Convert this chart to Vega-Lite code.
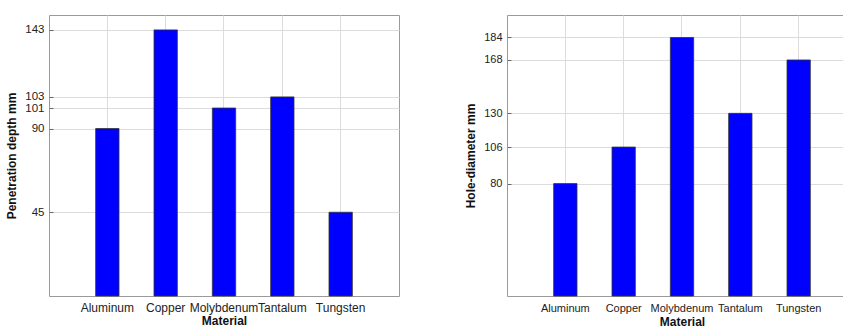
{
  "$schema": "https://vega.github.io/schema/vega-lite/v6.json",
  "autosize": {"type": "pad"},
  "padding": {"left": 5, "top": 14, "right": 0, "bottom": 0},
  "background": "white",
  "bounds": "flush",
  "spacing": 108,
  "data": {
    "values": [
      {"Material": "Aluminum", "Penetration": 90, "Hole": 80},
      {"Material": "Copper", "Penetration": 143, "Hole": 106},
      {"Material": "Molybdenum", "Penetration": 101, "Hole": 184},
      {"Material": "Tantalum", "Penetration": 107, "Hole": 130},
      {"Material": "Tungsten", "Penetration": 45, "Hole": 168}
    ]
  },
  "config": {
    "view": {"stroke": "#9a9a9a", "strokeWidth": 1},
    "axis": {
      "labelFont": "Liberation Sans",
      "labelFontSize": 11,
      "labelColor": "#222222",
      "titleFont": "Liberation Sans",
      "titleFontSize": 12,
      "titleFontWeight": "bold",
      "titleColor": "#111111",
      "gridColor": "#dcdcdc",
      "gridWidth": 1,
      "domain": false,
      "ticks": true,
      "tickSize": -4,
      "tickColor": "#666666",
      "labelOverlap": false
    },
    "bar": {"fill": "#0000ff", "stroke": "#333333", "strokeWidth": 0.8}
  },
  "hconcat": [
    {
      "width": 350,
      "height": 281,
      "mark": {"type": "bar"},
      "encoding": {
        "x": {
          "field": "Material",
          "type": "nominal",
          "sort": null,
          "scale": {"paddingInner": 0.6, "paddingOuter": 0.8},
          "axis": {"labelAngle": 0, "labelFontSize": 12, "labelPadding": 10, "titlePadding": 2, "grid": true, "bandPosition": 0.5, "labelOverlap": false, "labelBound": false}
        },
        "y": {
          "field": "Penetration",
          "type": "quantitative",
          "title": "Penetration depth mm",
          "scale": {"domain": [0, 151], "nice": false, "zero": true},
          "axis": {"values": [45, 90, 101, 107, 143], "labelExpr": "datum.value == 107 ? '103' : datum.label", "labelFontSize": 11.5, "labelPadding": 9, "titlePadding": 6, "labelOverlap": false}
        }
      }
    },
    {
      "width": 350,
      "height": 281,
      "mark": {"type": "bar"},
      "encoding": {
        "x": {
          "field": "Material",
          "type": "nominal",
          "sort": null,
          "scale": {"paddingInner": 0.6, "paddingOuter": 0.8},
          "axis": {"labelAngle": 0, "labelPadding": 10, "titlePadding": 3, "grid": true, "bandPosition": 0.5, "labelOverlap": false, "labelBound": false}
        },
        "y": {
          "field": "Hole",
          "type": "quantitative",
          "title": "Hole-diameter mm",
          "scale": {"domain": [0, 200], "nice": false, "zero": true},
          "axis": {"values": [80, 106, 130, 168, 184], "labelPadding": 9, "titlePadding": 6, "labelOverlap": false}
        }
      }
    }
  ]
}
